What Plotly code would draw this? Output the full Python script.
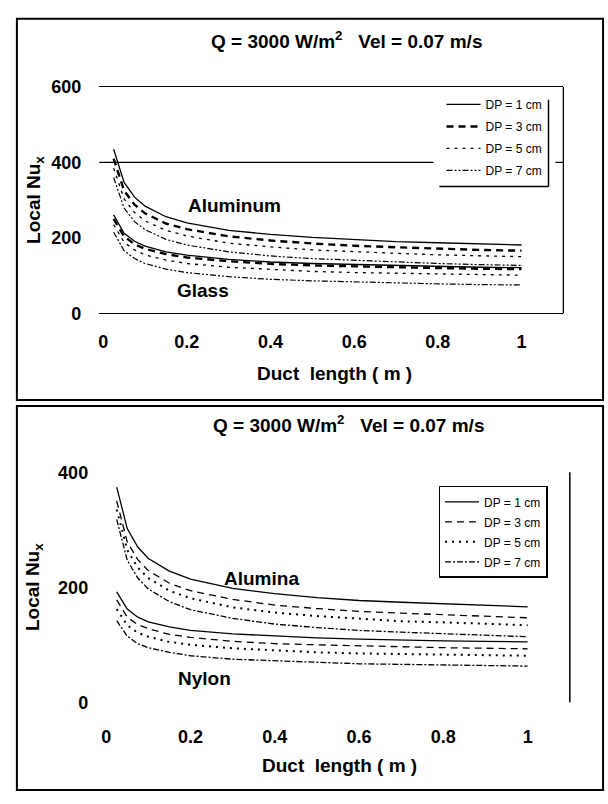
import plotly.graph_objects as go

W, H = 608, 804
def px(x): return x / W
def py(y): return 1 - y / H

# ---------------- data ----------------
x_m = [0.025, 0.05, 0.075, 0.1, 0.15, 0.2, 0.3, 0.4, 0.5, 0.6, 0.7, 0.8, 0.9, 1.0]

dp_labels = ["DP = 1 cm", "DP = 3 cm", "DP = 5 cm", "DP = 7 cm"]

# top panel: Aluminum / Glass
aluminum = [
    [435, 347, 308, 284, 256, 240, 220, 209, 201, 195, 190, 187, 184, 181],
    [410, 325, 288, 265, 238, 223, 204, 193, 185, 179, 175, 171, 168, 166],
    [385, 303, 267, 245, 220, 205, 186, 176, 168, 163, 159, 155, 152, 150],
    [360, 279, 243, 222, 196, 181, 163, 152, 145, 140, 136, 132, 129, 127],
]
glass = [
    [261, 212, 191, 178, 163, 154, 143, 136, 132, 129, 126, 124, 122, 121],
    [250, 204, 183, 171, 157, 148, 138, 131, 127, 124, 122, 120, 118, 117],
    [235, 188, 168, 155, 141, 132, 122, 116, 111, 108, 106, 104, 102, 101],
    [215, 166, 145, 132, 117, 108, 97, 90, 86, 83, 80, 78, 76, 75],
]
# bottom panel: Alumina / Nylon
alumina = [
    [374, 302, 270, 250, 228, 214, 198, 189, 182, 177, 174, 171, 168, 166],
    [350, 279, 248, 229, 207, 194, 179, 169, 163, 158, 155, 152, 149, 147],
    [335, 265, 234, 216, 194, 181, 165, 156, 150, 145, 141, 139, 136, 134],
    [318, 247, 216, 197, 175, 161, 146, 136, 130, 125, 122, 119, 116, 114],
]
nylon = [
    [192, 162, 148, 140, 131, 125, 119, 115, 112, 110, 108, 107, 106, 105],
    [178, 148, 135, 128, 118, 113, 106, 102, 100, 98, 96, 95, 94, 93],
    [162, 134, 121, 114, 105, 100, 94, 90, 87, 85, 84, 83, 82, 81],
    [142, 115, 102, 95, 87, 81, 75, 72, 69, 67, 66, 65, 64, 63],
]

x_ticks = [0, 0.2, 0.4, 0.6, 0.8, 1]
x_tick_text = ["0", "0.2", "0.4", "0.6", "0.8", "1"]
y_ticks_top = [0, 200, 400, 600]
y_ticks_bot = [0, 200, 400]

title_text = "Q = 3000 W/m<sup>2</sup>   Vel = 0.07 m/s"

# ---------------- styles ----------------
top_styles = [
    dict(width=1.3, dash="solid"),
    dict(width=2.4, dash="7px,5px"),
    dict(width=1.3, dash="3px,5px"),
    dict(width=1.2, dash="6px,2px,2px,2px,2px,2px"),
]
bot_styles = [
    dict(width=1.3, dash="solid"),
    dict(width=1.3, dash="7px,5px"),
    dict(width=2.0, dash="2px,5px"),
    dict(width=1.3, dash="6px,2px,2px,2px"),
]

fig = go.Figure()

for i in range(4):
    fig.add_trace(go.Scatter(x=x_m, y=aluminum[i], mode="lines", name=dp_labels[i],
                             line=dict(color="black", **top_styles[i]),
                             xaxis="x", yaxis="y", legend="legend",
                             legendgroup="t%d" % i, showlegend=True))
    fig.add_trace(go.Scatter(x=x_m, y=glass[i], mode="lines", name=dp_labels[i],
                             line=dict(color="black", **top_styles[i]),
                             xaxis="x", yaxis="y", legend="legend",
                             legendgroup="t%d" % i, showlegend=False))
for i in range(4):
    fig.add_trace(go.Scatter(x=x_m, y=alumina[i], mode="lines", name=dp_labels[i],
                             line=dict(color="black", **bot_styles[i]),
                             xaxis="x2", yaxis="y2", legend="legend2",
                             legendgroup="b%d" % i, showlegend=True))
    fig.add_trace(go.Scatter(x=x_m, y=nylon[i], mode="lines", name=dp_labels[i],
                             line=dict(color="black", **bot_styles[i]),
                             xaxis="x2", yaxis="y2", legend="legend2",
                             legendgroup="b%d" % i, showlegend=False))

FONT = "Liberation Sans, Arial, sans-serif"
tickfont = dict(family=FONT, size=18, color="black", weight="bold")

fig.update_layout(
    width=W, height=H,
    margin=dict(l=0, r=0, t=0, b=0),
    paper_bgcolor="white", plot_bgcolor="white",
    font=dict(family=FONT, color="black"),
    xaxis=dict(domain=[px(95), px(563)], range=[-0.0095, 1.1], anchor="y",
               tickvals=x_ticks, ticktext=x_tick_text, tickfont=tickfont,
               showgrid=False, zeroline=False, showline=True, mirror=True,
               linecolor="black", linewidth=1.3, ticks="", ticklabelstandoff=12),
    yaxis=dict(domain=[py(311), py(79)], range=[0, 600], anchor="x",
               tickvals=y_ticks_top, tickfont=tickfont,
               showgrid=False, zeroline=False, showline=False, ticks="",
               ticklabelstandoff=17),
    xaxis2=dict(domain=[px(102), px(569.5)], range=[0, 1.1], anchor="y2",
                tickvals=x_ticks, ticktext=x_tick_text, tickfont=tickfont,
                showgrid=False, zeroline=False, showline=False, ticks="",
                ticklabelstandoff=22),
    yaxis2=dict(domain=[py(710), py(474)], range=[0, 400], anchor="x2",
                tickvals=y_ticks_bot, tickfont=tickfont,
                showgrid=False, zeroline=False, showline=False, ticks="",
                ticklabelstandoff=17),
    legend=dict(x=px(547), xanchor="right", y=py(82), yanchor="top",
                bgcolor="rgba(0,0,0,0)", borderwidth=0, tracegroupgap=3,
                itemwidth=34, font=dict(family=FONT, size=12, color="black")),
    legend2=dict(x=px(547), xanchor="right", y=py(488), yanchor="top",
                 bgcolor="white", bordercolor="black", borderwidth=1.5,
                 tracegroupgap=1, itemwidth=34,
                 font=dict(family=FONT, size=12, color="black")),
    showlegend=True,
)

shapes = []
# panel borders
shapes.append(dict(type="rect", xref="paper", yref="paper",
                   x0=px(12), x1=px(603), y0=py(400), y1=py(9),
                   line=dict(color="black", width=2), fillcolor="rgba(0,0,0,0)"))
shapes.append(dict(type="rect", xref="paper", yref="paper",
                   x0=px(12), x1=px(603), y0=py(800), y1=py(406),
                   line=dict(color="black", width=2), fillcolor="rgba(0,0,0,0)"))
# top panel gridline at 400 and right frame
shapes.append(dict(type="line", xref="x domain", yref="y", x0=0, x1=1, y0=400, y1=400,
                   line=dict(color="black", width=1.3), layer="below"))
shapes.append(dict(type="line", xref="x domain", yref="y domain", x0=1, x1=1, y0=0, y1=1,
                   line=dict(color="black", width=1.3)))
# top legend: white backing (hides gridline) + right/bottom border
shapes.append(dict(type="rect", xref="paper", yref="paper", x0=px(432), x1=px(555),
                   y0=py(181), y1=py(86), line=dict(width=0), fillcolor="white",
                   layer="above"))
shapes.append(dict(type="line", xref="paper", yref="paper", x0=px(548), x1=px(548),
                   y0=py(181), y1=py(92), line=dict(color="black", width=1.5)))
shapes.append(dict(type="line", xref="paper", yref="paper", x0=px(438), x1=px(548),
                   y0=py(181), y1=py(181), line=dict(color="black", width=1.5)))
# bottom panel right frame
shapes.append(dict(type="line", xref="x2 domain", yref="y2 domain", x0=1, x1=1, y0=0, y1=1,
                   line=dict(color="black", width=1.5)))
fig.update_layout(shapes=shapes)

big = dict(family=FONT, size=19, color="black", weight="bold")
ann = []
ann.append(dict(text=title_text, x=px(344), y=py(31), xref="paper", yref="paper",
                showarrow=False, font=big, xanchor="center", yanchor="middle"))
ann.append(dict(text=title_text, x=px(346), y=py(425), xref="paper", yref="paper",
                showarrow=False, font=big, xanchor="center", yanchor="middle"))
for yc in (195, 592):
    ann.append(dict(text="Local Nu<sub>x</sub>", x=px(30), y=py(yc), xref="paper", yref="paper",
                    showarrow=False, font=big, textangle=-90,
                    xanchor="center", yanchor="middle"))
ann.append(dict(text="Duct  length ( m )", x=px(332), y=py(373), xref="paper", yref="paper",
                showarrow=False, font=big, xanchor="center", yanchor="middle"))
ann.append(dict(text="Duct  length ( m )", x=px(337), y=py(775), xref="paper", yref="paper",
                showarrow=False, font=big, xanchor="center", yanchor="middle"))
ann.append(dict(text="Aluminum", x=px(231), y=py(200), xref="paper", yref="paper",
                showarrow=False, font=big, xanchor="center", yanchor="middle"))
ann.append(dict(text="Glass", x=px(200), y=py(288), xref="paper", yref="paper",
                showarrow=False, font=big, xanchor="center", yanchor="middle"))
ann.append(dict(text="Alumina", x=px(259), y=py(583), xref="paper", yref="paper",
                showarrow=False, font=big, xanchor="center", yanchor="middle"))
ann.append(dict(text="Nylon", x=px(201), y=py(686), xref="paper", yref="paper",
                showarrow=False, font=big, xanchor="center", yanchor="middle"))
fig.update_layout(annotations=ann)

fig.write_html("out.html")
